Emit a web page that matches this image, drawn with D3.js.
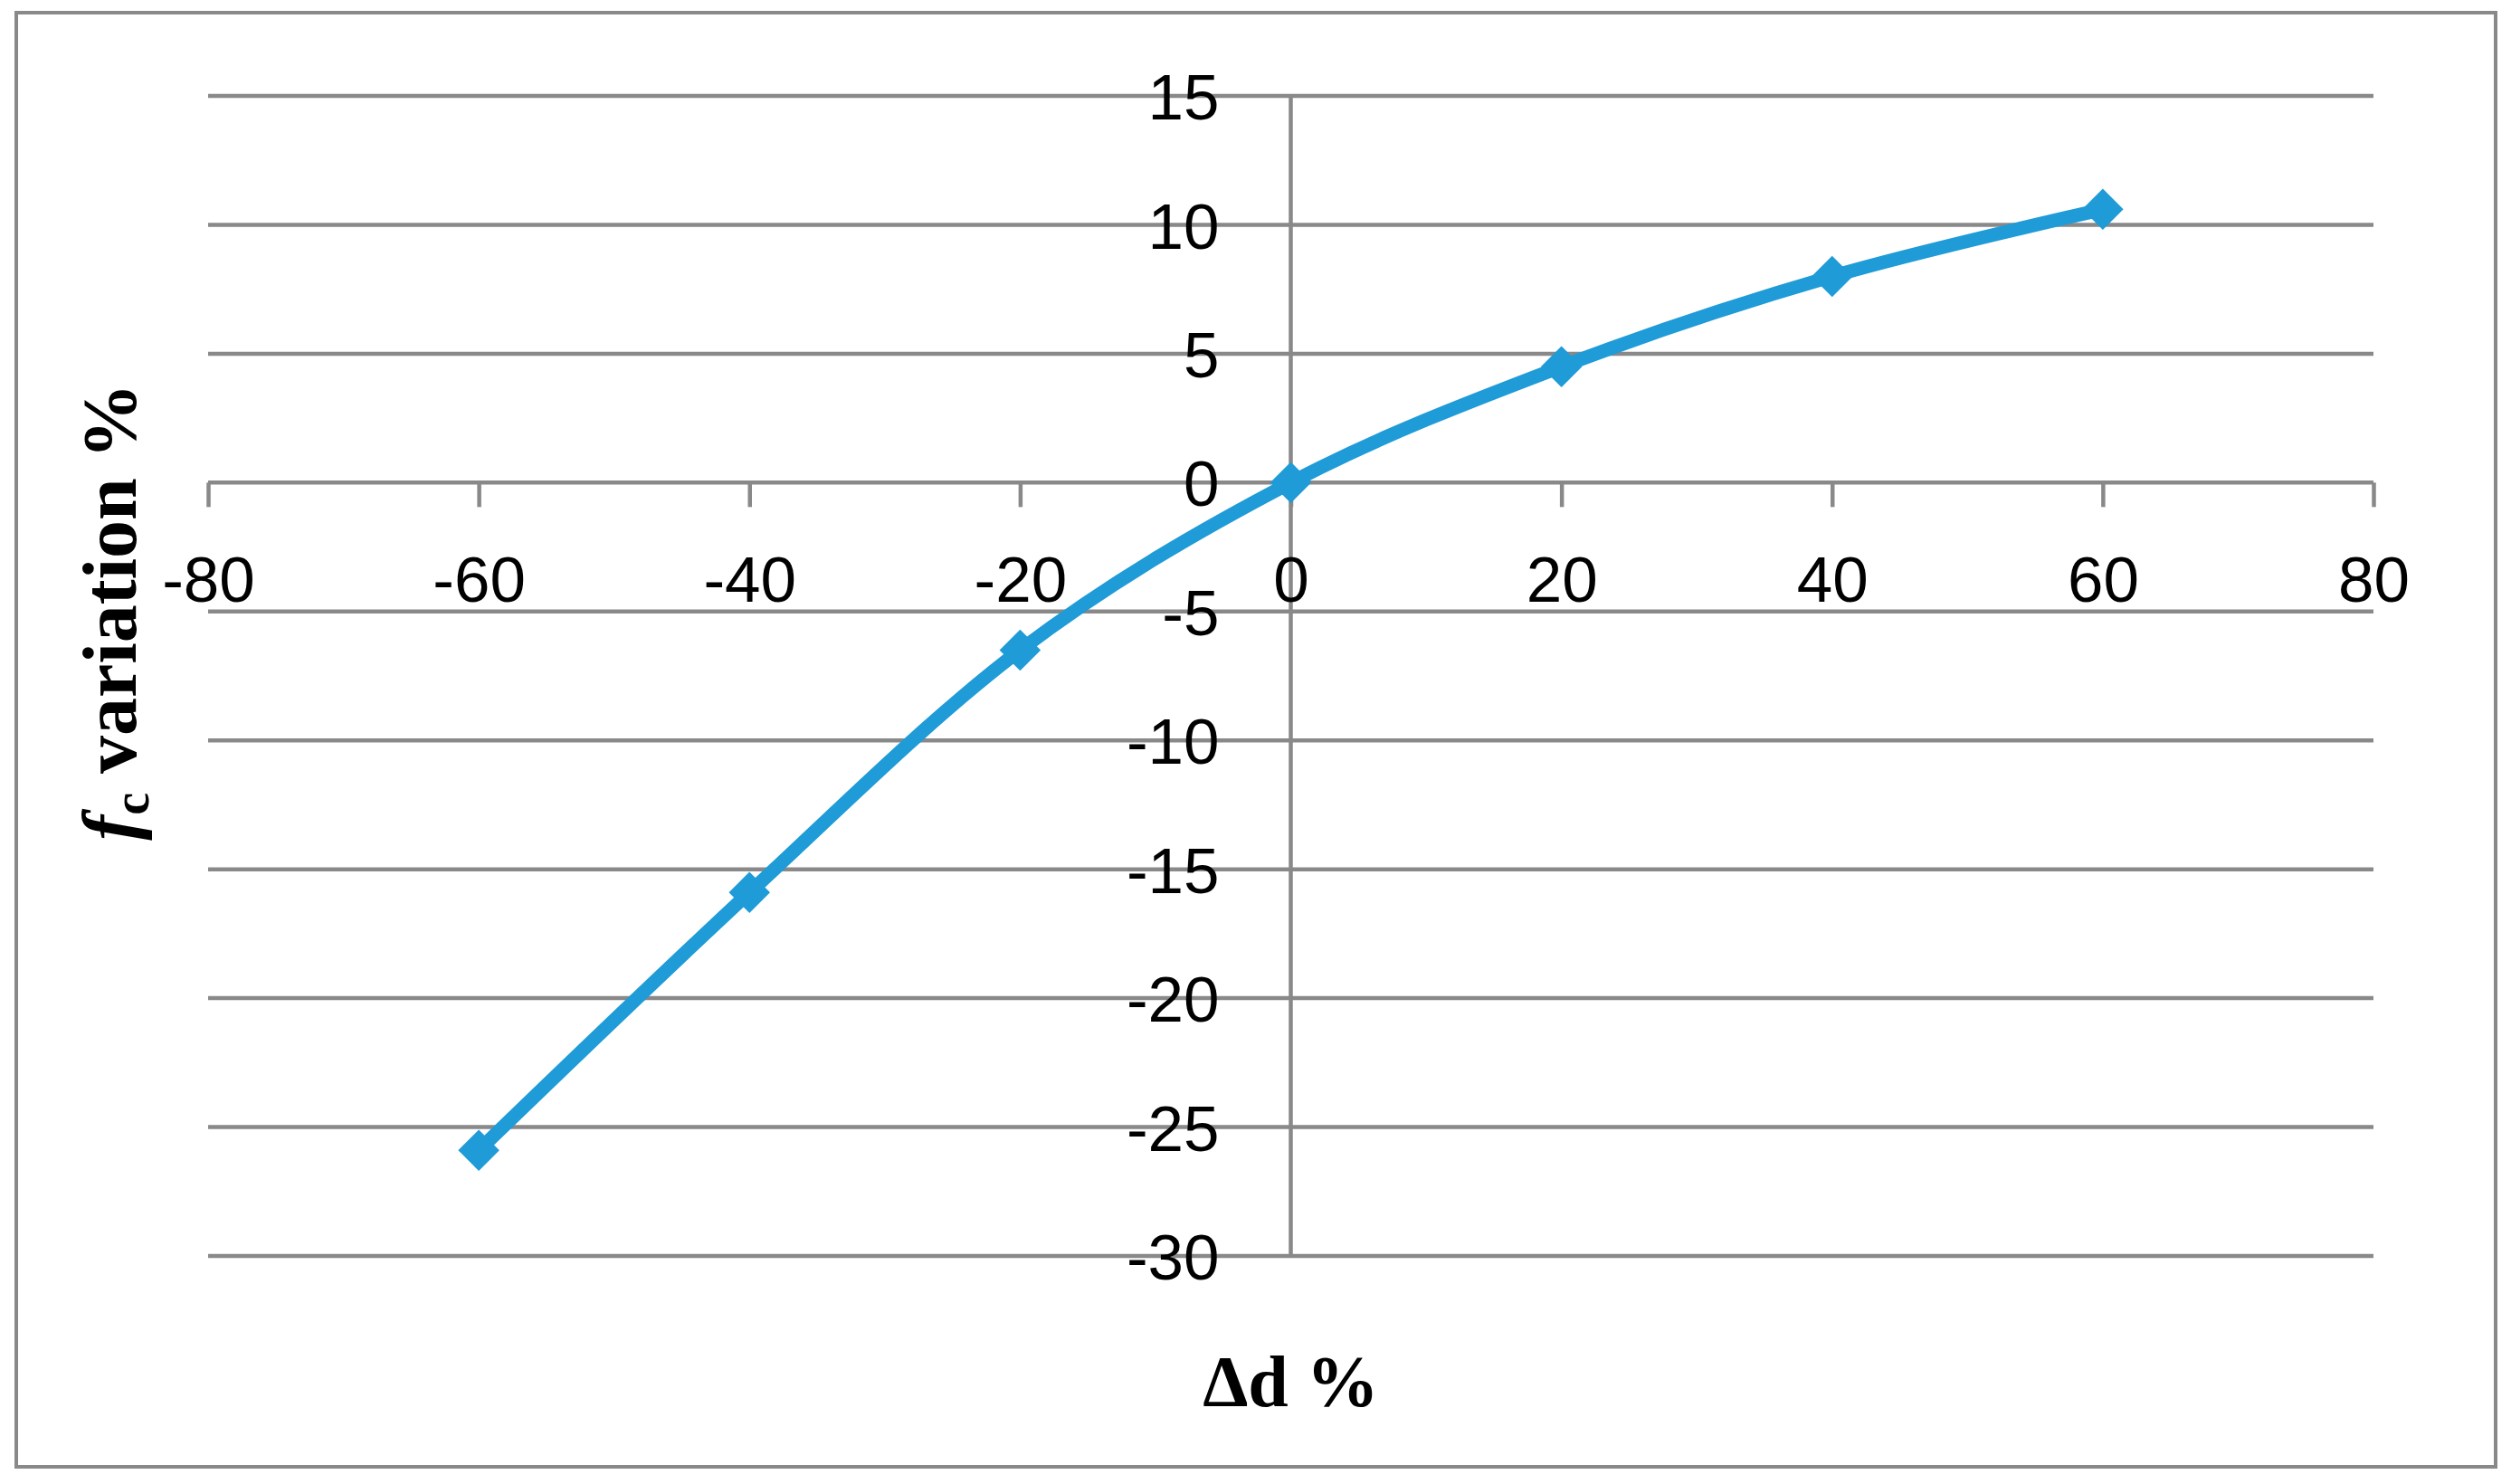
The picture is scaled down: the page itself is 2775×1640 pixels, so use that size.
<!DOCTYPE html>
<html lang="en">

<head>
    <meta charset="UTF-8">
    <title>fc variation vs Δd</title>
    <script src="https://d3js.org/d3.v7.min.js"></script>
    <style>
        body {
            margin: 0;
            background: #fff;
        }
    </style>
</head>

<body>
    <div id="chart"></div>
</body>

<script>
    // data
    var deltaD = [-60, -40, -20, 0, 20, 40, 60];
    var fcVariation = [-25.9, -15.9, -6.5, 0, 4.5, 8.0, 10.6];

    var xTicks = [-80, -60, -40, -20, 0, 20, 40, 60, 80];
    var yTicks = [15, 10, 5, 0, -5, -10, -15, -20, -25, -30];

    const width = 2775;
    const height = 1640;
    const plot = { left: 230, right: 2623, top: 106, bottom: 1388 };
    const gridColor = "#898989";
    const lineColor = "#1f9bd7";

    var svg = d3.select("#chart")
        .append("svg")
        .attr("width", width)
        .attr("height", height);

    svg.append("rect")
        .attr("width", width)
        .attr("height", height)
        .attr("fill", "white");

    // outer frame of the chart
    svg.append("rect")
        .attr("x", 18)
        .attr("y", 14)
        .attr("width", 2758 - 18)
        .attr("height", 1621 - 14)
        .attr("fill", "none")
        .attr("stroke", gridColor)
        .attr("stroke-width", 4);

    var x = d3.scaleLinear().domain([-80, 80]).range([plot.left, plot.right]);
    var y = d3.scaleLinear().domain([-30, 15]).range([plot.bottom, plot.top]);

    // horizontal grid lines
    svg.append("g")
        .selectAll("line")
        .data(yTicks)
        .join("line")
        .attr("x1", plot.left)
        .attr("x2", plot.right)
        .attr("y1", (d) => y(d))
        .attr("y2", (d) => y(d))
        .attr("stroke", gridColor)
        .attr("stroke-width", 4.5);

    // vertical axis line at x = 0
    svg.append("line")
        .attr("x1", x(0))
        .attr("x2", x(0))
        .attr("y1", y(15))
        .attr("y2", y(-30))
        .attr("stroke", gridColor)
        .attr("stroke-width", 4.5);

    // x axis crosses at y = 0
    var xAxis = svg.append("g")
        .attr("transform", `translate(0, ${y(0)})`)
        .call(d3.axisBottom(x).tickValues(xTicks).tickSize(27).tickFormat((d) => String(d)));
    xAxis.select(".domain").remove();
    xAxis.selectAll("line")
        .attr("stroke", gridColor)
        .attr("stroke-width", 4.5);
    xAxis.selectAll("text")
        .attr("y", 107)
        .attr("dy", "0.35em")
        .attr("fill", "#000")
        .style("font-family", "'Liberation Sans', Arial, sans-serif")
        .style("font-size", "71px");

    // y labels sit left of the x = 0 axis
    var yAxis = svg.append("g")
        .attr("transform", `translate(${x(0)}, 0)`)
        .call(d3.axisLeft(y).tickValues(yTicks).tickSize(0).tickPadding(79).tickFormat((d) => String(d)));
    yAxis.select(".domain").remove();
    yAxis.selectAll("text")
        .attr("dy", "0.36em")
        .attr("fill", "#000")
        .style("font-family", "'Liberation Sans', Arial, sans-serif")
        .style("font-size", "71px");

    // smoothed series line
    var points = deltaD.map((d, i) => ({ x: d, y: fcVariation[i] }));
    var line = d3.line()
        .x((d) => x(d.x))
        .y((d) => y(d.y))
        .curve(d3.curveCardinal.tension(0));

    svg.append("path")
        .datum(points)
        .attr("d", line)
        .attr("fill", "none")
        .attr("stroke", lineColor)
        .attr("stroke-width", 15)
        .attr("stroke-linejoin", "round");

    // diamond markers
    var diamond = d3.symbol().type(d3.symbolSquare).size(1035);
    svg.append("g")
        .selectAll("path")
        .data(points)
        .join("path")
        .attr("d", diamond)
        .attr("transform", (d) => `translate(${x(d.x)}, ${y(d.y)}) rotate(45)`)
        .attr("fill", lineColor);

    // axis titles
    svg.append("text")
        .attr("x", x(0))
        .attr("y", 1554)
        .attr("text-anchor", "middle")
        .style("font-family", "'Liberation Serif', 'Times New Roman', serif")
        .style("font-weight", "bold")
        .style("font-size", "80px")
        .text("Δd %");

    var yTitle = svg.append("text")
        .attr("transform", "translate(150, 676) rotate(-90)")
        .attr("text-anchor", "middle")
        .style("font-family", "'Liberation Serif', 'Times New Roman', serif")
        .style("font-weight", "bold")
        .style("font-size", "84px");
    yTitle.append("tspan").style("font-style", "italic").text("f");
    yTitle.append("tspan").attr("dy", 14).style("font-size", "56px").text("c");
    yTitle.append("tspan").attr("dy", -14).text(" variation %");
</script>

</html>
